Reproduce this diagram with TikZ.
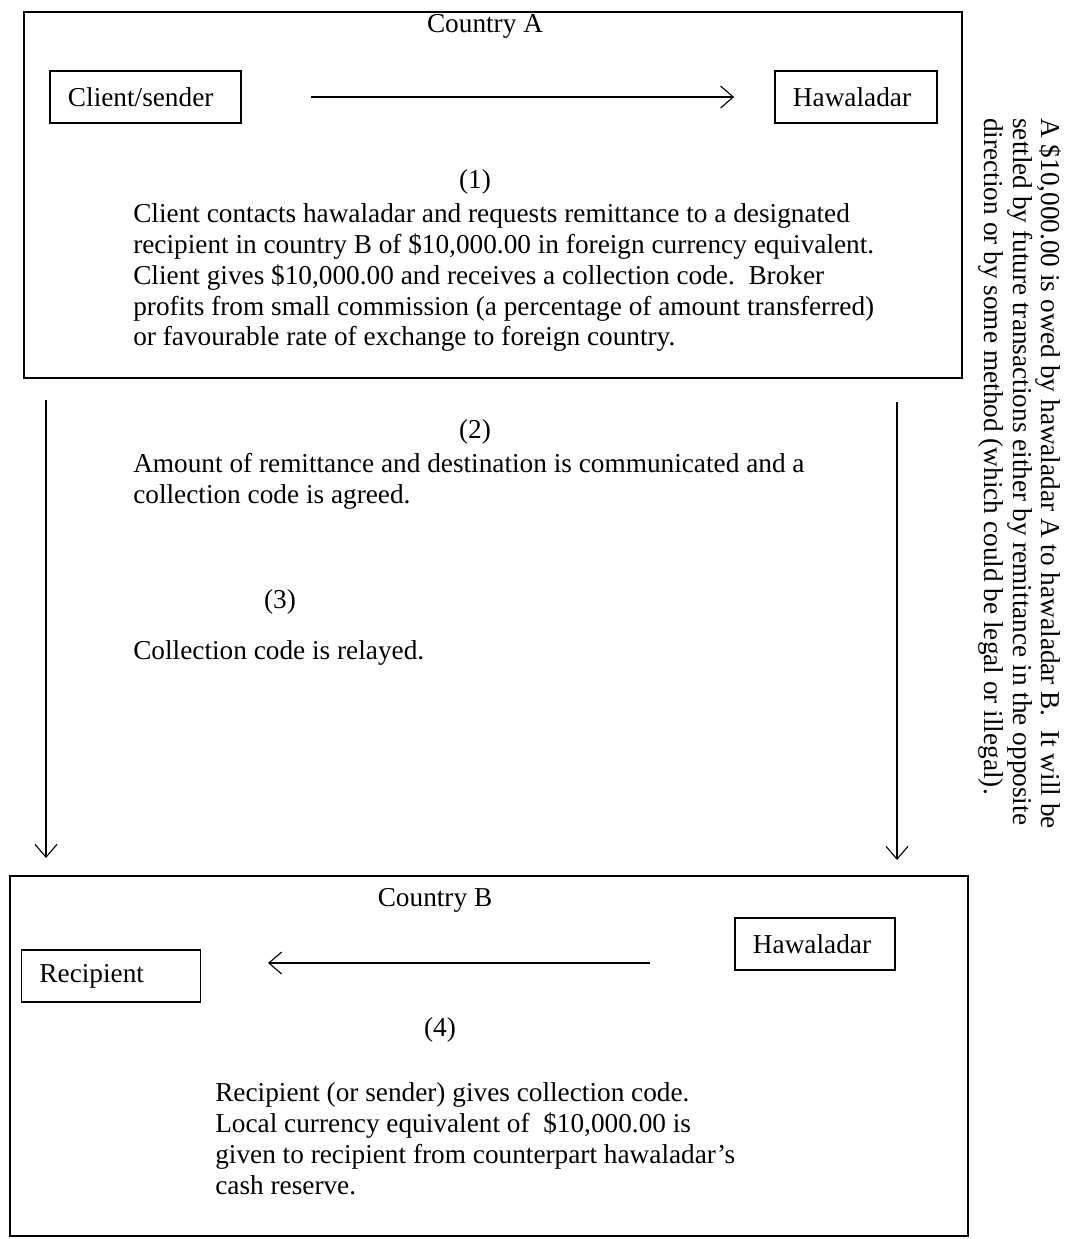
\documentclass[tikz,border=0pt]{standalone}
\usepackage{fontspec}
\setmainfont{Liberation Serif}
\usetikzlibrary{arrows.meta}
\begin{document}
\begin{tikzpicture}[x=0.025cm, y=-0.025cm,
    font=\fontsize{19.4}{22}\selectfont,
    region/.style={draw, line width=1.1pt, inner sep=0pt},
    agent/.style={draw, line width=1.1pt, inner xsep=0.45cm, inner ysep=0pt,
      minimum height=1.3cm, text width=#1, align=left},
    para/.style={anchor=north west, inner sep=0pt, align=left},
    flow/.style={-{Straight Barb[length=0.32cm, width=0.55cm]}, line width=0.8pt}]
  \useasboundingbox (0,0) rectangle (1073,1239);
  % country A
  \node[region, minimum width=23.45cm, minimum height=9.15cm] (countryA) at (493,195) {};
  \node (labelA) at (485,26) {Country A};
  \node[agent=3.875cm] (client) at (145.5,97) {Client/sender};
  \node[agent=3.15cm] (hawA) at (856,97) {Hawaladar};
  \node (step1) at (475,182) {(1)};
  \node[para] (text1) at (133,203) {Client contacts hawaladar and requests remittance to a designated\\
    recipient in country B of \$10,000.00 in foreign currency equivalent.\\
    Client gives \$10,000.00 and receives a collection code.\ \ Broker\\
    profits from small commission (a percentage of amount transferred)\\
    or favourable rate of exchange to foreign country.};
  % between the countries
  \node (step2) at (475,432) {(2)};
  \node[para] (text2) at (133,453) {Amount of remittance and destination is communicated and a\\
    collection code is agreed.};
  \node (step3) at (280,602) {(3)};
  \node[para] (text3) at (133,640) {Collection code is relayed.};
  \coordinate (downL1) at (46,400);
  \coordinate (downL2) at (46,858);
  \coordinate (downR1) at (897,402);
  \coordinate (downR2) at (897,860);
  % country B
  \node[region, minimum width=23.95cm, minimum height=9.0cm] (countryB) at (489,1056) {};
  \node (labelB) at (435,900) {Country B};
  \node[agent=3.1cm] (hawB) at (815,944) {Hawaladar};
  \node[agent=3.575cm] (recip) at (111,976) {Recipient};
  \node (step4) at (440,1030) {(4)};
  \node[para] (text4) at (215,1082) {Recipient (or sender) gives collection code.\\
    Local currency equivalent of\ \ \$10,000.00 is\\
    given to recipient from counterpart hawaladar’s\\
    cash reserve.};
  \coordinate (payFrom) at (650,963);
  \coordinate (payTo) at (268,963);
  % settlement note
  \node[para, rotate=-90, font=\fontsize{19.4}{20.3}\selectfont] (settle) at (1062,118)
    {A \$10,000.00 is owed by hawaladar A to hawaladar B.\ \ It will be\\
    settled by future transactions either by remittance in the opposite\\
    direction or by some method (which could be legal or illegal).};
  \begin{scope}[flow]
    \draw[shorten <=1.725cm, shorten >=1cm] (client) to (hawA);
    \draw (downL1) to (downL2);
    \draw (downR1) to (downR2);
    \draw (payFrom) to (payTo);
  \end{scope}
\end{tikzpicture}
\end{document}
